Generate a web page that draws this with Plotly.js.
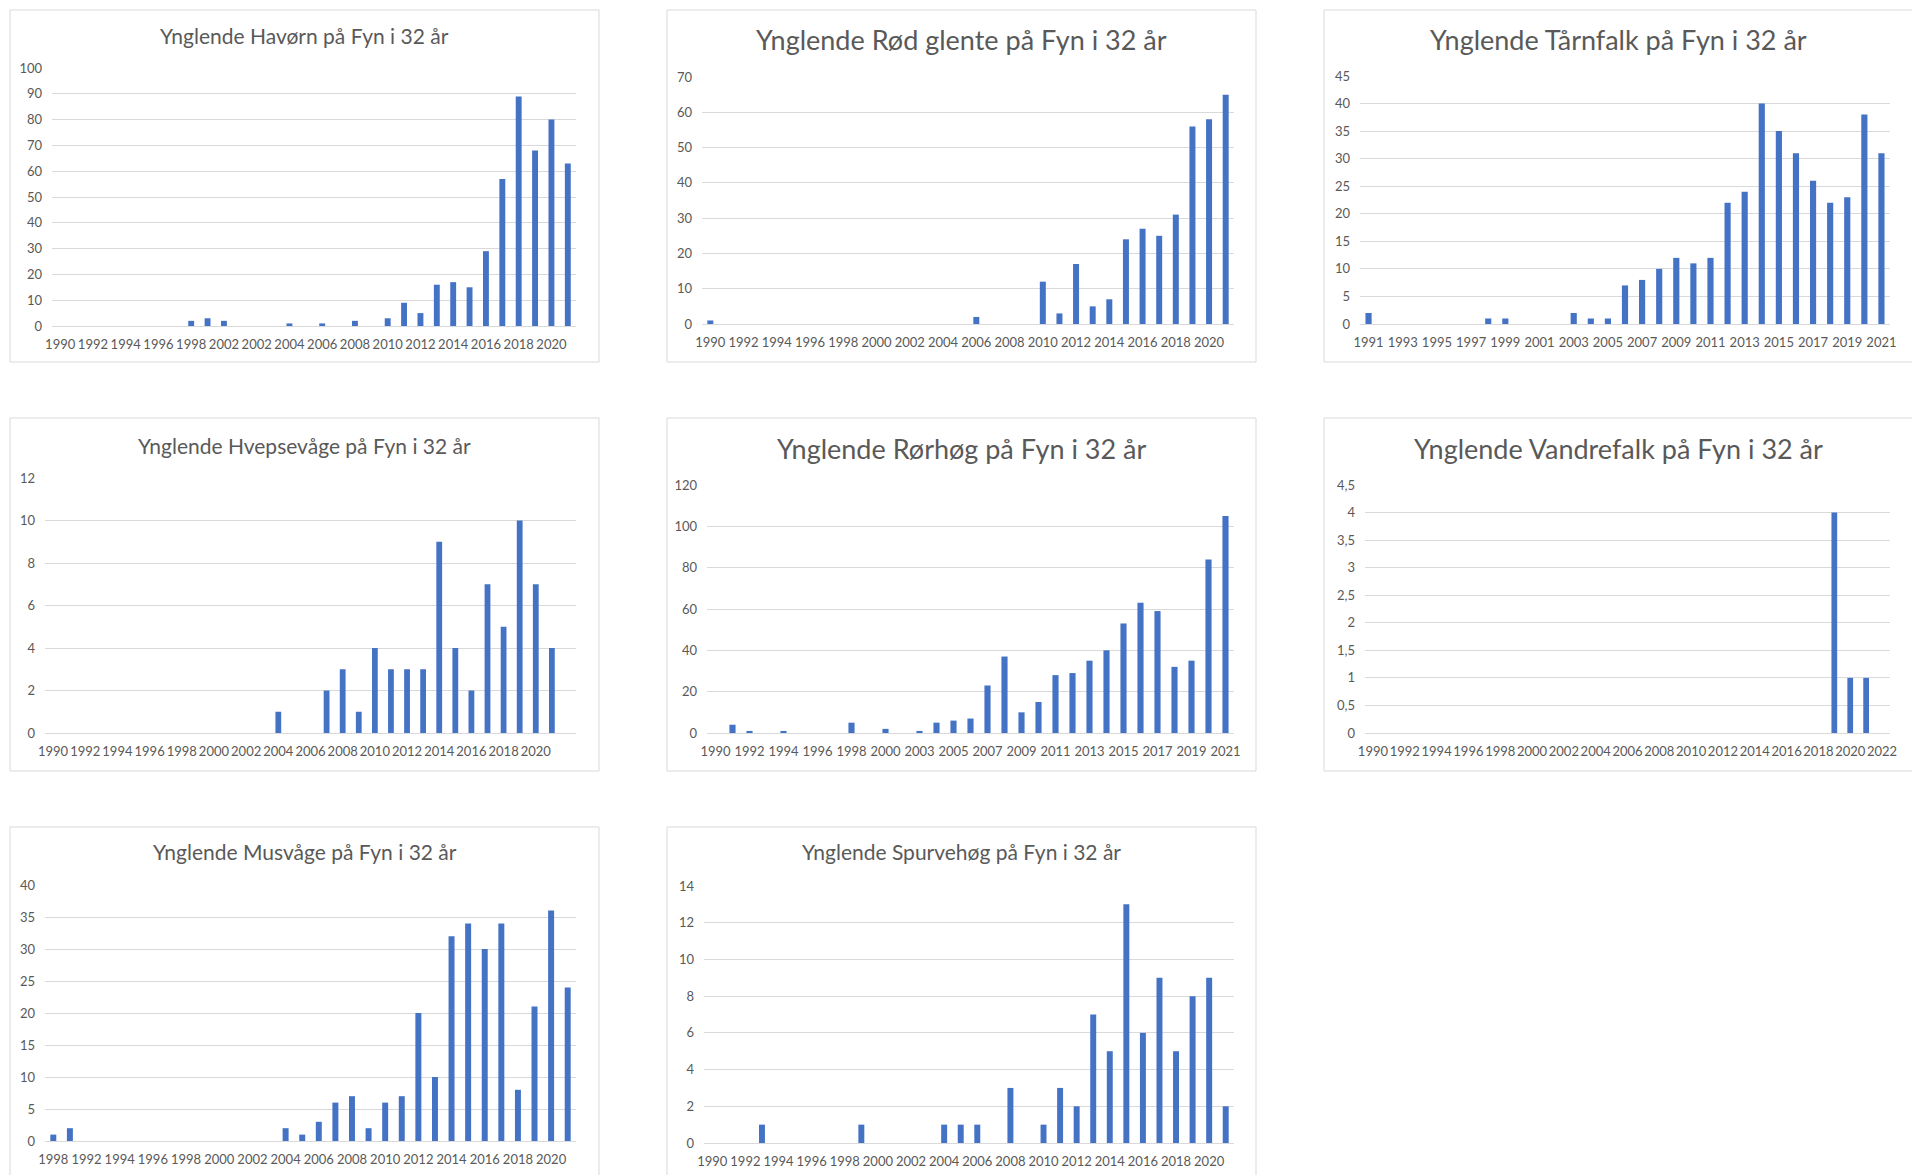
<!DOCTYPE html>
<html>
<head>
<meta charset="utf-8">
<script src="https://cdn.plot.ly/plotly-3.0.1.min.js"></script>
<style>html,body{margin:0;padding:0;background:#fff;}#chart{width:1912px;height:1175px;}</style>
</head>
<body>
<div id="chart"></div>
<script>
// ---------- DATA ----------
const havornTitle = "Ynglende Havørn på Fyn i 32 år";
const havornLabels = ["1990","1992","1994","1996","1998","2002","2002","2004","2006","2008","2010","2012","2014","2016","2018","2020"];
const havornValues = [0,0,0,0,0,0,0,0,2,3,2,0,0,0,1,0,1,0,2,0,3,9,5,16,17,15,29,57,89,68,80,63];

const rodGlenteTitle = "Ynglende Rød glente på Fyn i 32 år";
const rodGlenteLabels = ["1990","1992","1994","1996","1998","2000","2002","2004","2006","2008","2010","2012","2014","2016","2018","2020"];
const rodGlenteValues = [1,0,0,0,0,0,0,0,0,0,0,0,0,0,0,0,2,0,0,0,12,3,17,5,7,24,27,25,31,56,58,65];

const tarnfalkTitle = "Ynglende Tårnfalk på Fyn i 32 år";
const tarnfalkLabels = ["1991","1993","1995","1997","1999","2001","2003","2005","2007","2009","2011","2013","2015","2017","2019","2021"];
const tarnfalkValues = [2,0,0,0,0,0,0,1,1,0,0,0,2,1,1,7,8,10,12,11,12,22,24,40,35,31,26,22,23,38,31];

const hvepsevageTitle = "Ynglende Hvepsevåge på Fyn i 32 år";
const hvepsevageLabels = ["1990","1992","1994","1996","1998","2000","2002","2004","2006","2008","2010","2012","2014","2016","2018","2020"];
const hvepsevageValues = [0,0,0,0,0,0,0,0,0,0,0,0,0,0,1,0,0,2,3,1,4,3,3,3,9,4,2,7,5,10,7,4,0];

const rorhogTitle = "Ynglende Rørhøg på Fyn i 32 år";
const rorhogLabels = ["1990","1992","1994","1996","1998","2000","2003","2005","2007","2009","2011","2013","2015","2017","2019","2021"];
const rorhogValues = [0,4,1,0,1,0,0,0,5,0,2,0,1,5,6,7,23,37,10,15,28,29,35,40,53,63,59,32,35,84,105];

const vandrefalkTitle = "Ynglende Vandrefalk på Fyn i 32 år";
const vandrefalkLabels = ["1990","1992","1994","1996","1998","2000","2002","2004","2006","2008","2010","2012","2014","2016","2018","2020","2022"];
const vandrefalkValues = [0,0,0,0,0,0,0,0,0,0,0,0,0,0,0,0,0,0,0,0,0,0,0,0,0,0,0,0,0,4,1,1,0];

const musvageTitle = "Ynglende Musvåge på Fyn i 32 år";
const musvageLabels = ["1998","1992","1994","1996","1998","2000","2002","2004","2006","2008","2010","2012","2014","2016","2018","2020"];
const musvageValues = [1,2,0,0,0,0,0,0,0,0,0,0,0,0,2,1,3,6,7,2,6,7,20,10,32,34,30,34,8,21,36,24];

const spurvehogTitle = "Ynglende Spurvehøg på Fyn i 32 år";
const spurvehogLabels = ["1990","1992","1994","1996","1998","2000","2002","2004","2006","2008","2010","2012","2014","2016","2018","2020"];
const spurvehogValues = [0,0,0,1,0,0,0,0,0,1,0,0,0,0,1,1,1,0,3,0,1,3,2,7,5,13,6,9,5,8,9,2];

// y-axis scale per panel (max, step)
const yMaxes = [100, 70, 45, 12, 120, 4.5, 40, 14];
const ySteps = [10, 10, 5, 2, 20, 0.5, 5, 2];

// ---------- LAYOUT GEOMETRY ----------
const W = 1912, H = 1175;
const FONT = "Lato, 'Open Sans', sans-serif";
const TXT = "#595959";
const GRID = "#d9d9d9";
const BAR = "#4472C4";

const frames = [
  {box:[10,10,599,362],    plot:[52,68,576,326],    titleY:36,  titleSize:21},
  {box:[667,10,1256,362],  plot:[702,77,1234,324],  titleY:39,  titleSize:27},
  {box:[1324,10,1915,362], plot:[1360,76,1890,324], titleY:39,  titleSize:27},
  {box:[10,418,599,771],   plot:[45,478,576,733],   titleY:445, titleSize:21},
  {box:[667,418,1256,771], plot:[707,485,1234,733], titleY:449, titleSize:27},
  {box:[1324,418,1915,771],plot:[1365,485,1890,733],titleY:449, titleSize:27},
  {box:[10,827,599,1180],  plot:[45,885,576,1141],  titleY:851, titleSize:21},
  {box:[667,827,1256,1180],plot:[704,886,1234,1143],titleY:851, titleSize:21}
];

const panels = [
  {title:havornTitle, labels:havornLabels, values:havornValues},
  {title:rodGlenteTitle, labels:rodGlenteLabels, values:rodGlenteValues},
  {title:tarnfalkTitle, labels:tarnfalkLabels, values:tarnfalkValues},
  {title:hvepsevageTitle, labels:hvepsevageLabels, values:hvepsevageValues},
  {title:rorhogTitle, labels:rorhogLabels, values:rorhogValues},
  {title:vandrefalkTitle, labels:vandrefalkLabels, values:vandrefalkValues},
  {title:musvageTitle, labels:musvageLabels, values:musvageValues},
  {title:spurvehogTitle, labels:spurvehogLabels, values:spurvehogValues}
];

const traces = [];
const layout = {
  width: W, height: H,
  margin: {l:0, r:0, t:0, b:0},
  paper_bgcolor: "#ffffff",
  plot_bgcolor: "rgba(0,0,0,0)",
  showlegend: false,
  separators: ", ",
  font: {family: FONT, color: TXT},
  shapes: [],
  annotations: []
};

panels.forEach((p, k) => {
  const f = frames[k];
  const sfx = k === 0 ? "" : String(k + 1);
  const n = p.values.length;
  traces.push({
    type: "bar",
    x: p.values.map((_, i) => i),
    y: p.values,
    xaxis: "x" + sfx,
    yaxis: "y" + sfx,
    width: 0.36,
    marker: {color: BAR},
    hoverinfo: "skip"
  });
  layout["xaxis" + sfx] = {
    domain: [f.plot[0] / W, f.plot[2] / W],
    anchor: "y" + sfx,
    range: [-0.5, n - 0.5],
    tickmode: "array",
    tickvals: p.labels.map((_, i) => 2 * i),
    ticktext: p.labels,
    tickangle: 0,
    showgrid: false, zeroline: false, showline: false, ticks: "",
    ticklabelstandoff: 9,
    tickfont: {family: FONT, size: 13, color: TXT},
    fixedrange: true
  };
  layout["yaxis" + sfx] = {
    domain: [1 - f.plot[3] / H, 1 - f.plot[1] / H],
    anchor: "x" + sfx,
    range: [0, yMaxes[k]],
    tick0: 0, dtick: ySteps[k],
    showgrid: true, gridcolor: GRID, gridwidth: 1,
    zeroline: true, zerolinecolor: GRID, zerolinewidth: 1,
    showline: false, ticks: "",
    ticklabelstandoff: 9,
    tickfont: {family: FONT, size: 13, color: TXT},
    fixedrange: true
  };
  layout.shapes.push({
    type: "rect", xref: "paper", yref: "paper",
    x0: f.box[0] / W, x1: f.box[2] / W,
    y0: 1 - f.box[3] / H, y1: 1 - f.box[1] / H,
    line: {color: GRID, width: 1}, fillcolor: "rgba(0,0,0,0)", layer: "below"
  });
  layout.annotations.push({
    text: p.title, xref: "paper", yref: "paper",
    x: (f.box[0] + Math.min(f.box[2], 1912)) / 2 / W,
    y: 1 - f.titleY / H,
    xanchor: "center", yanchor: "middle", showarrow: false,
    font: {family: FONT, size: f.titleSize, color: TXT}
  });
});

Plotly.newPlot("chart", traces, layout, {displayModeBar: false, staticPlot: true});
</script>
</body>
</html>
